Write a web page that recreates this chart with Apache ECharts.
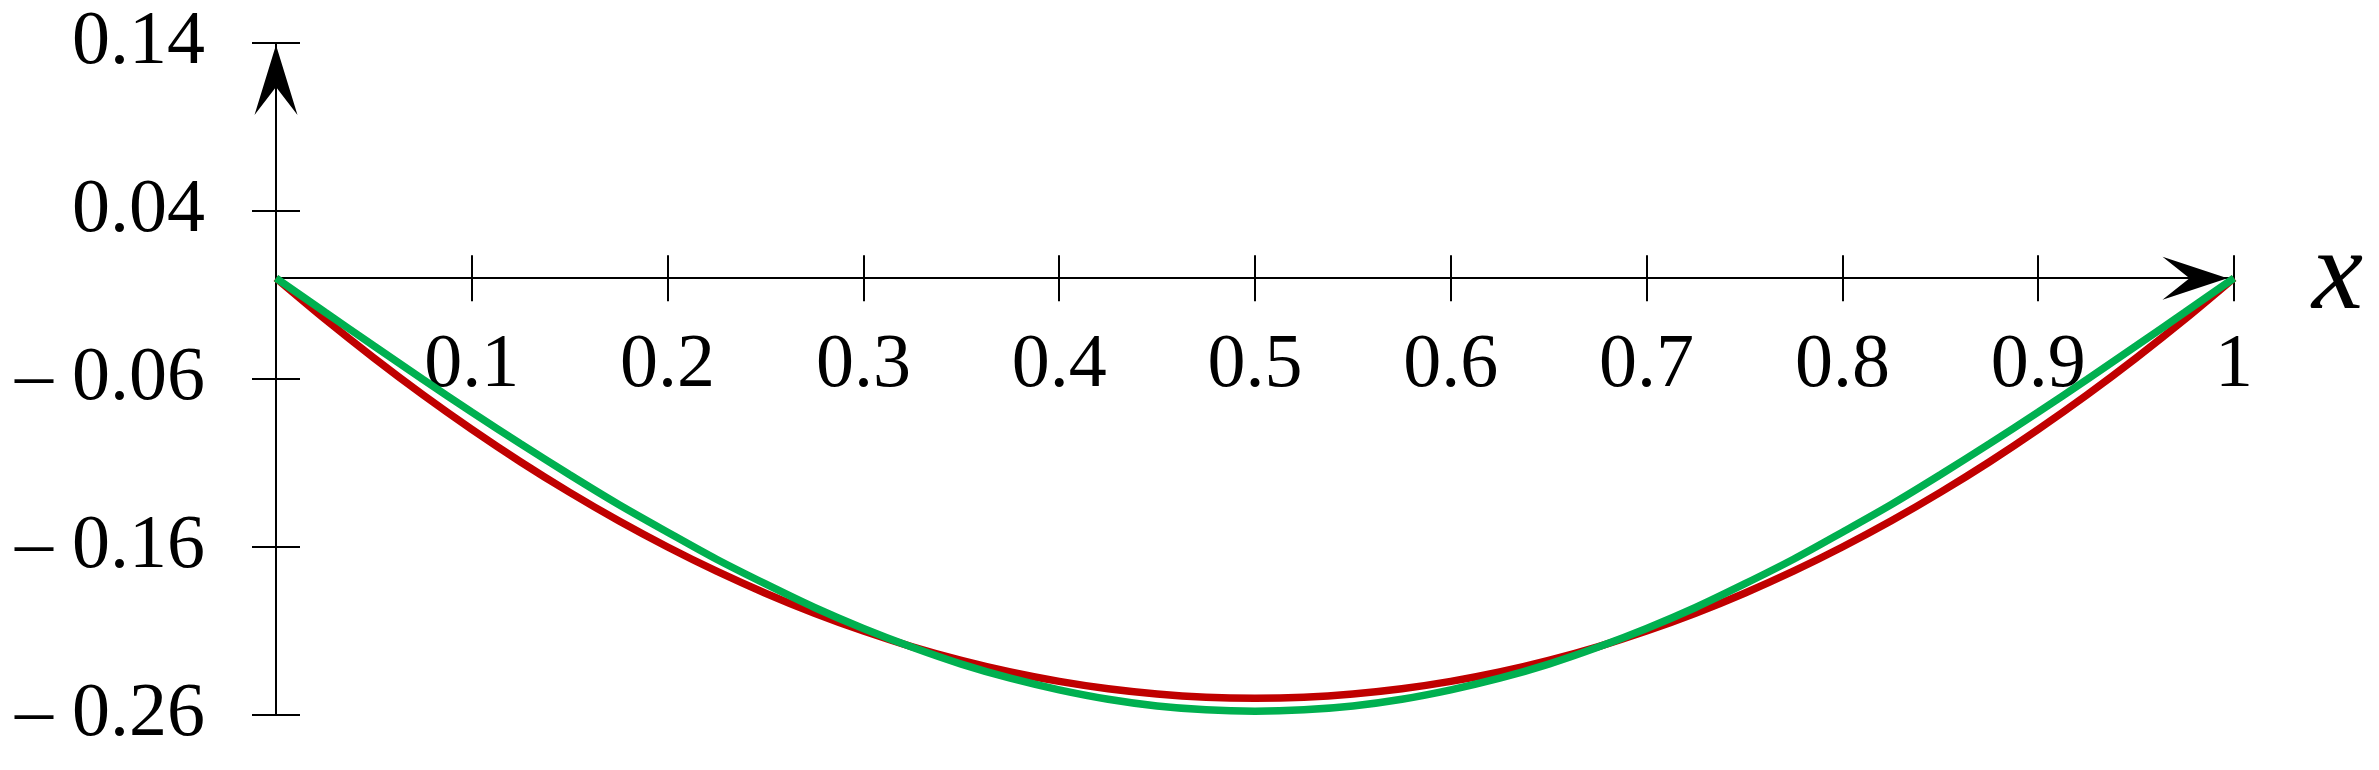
<!DOCTYPE html>
<html>
<head>
<meta charset="utf-8">
<script src="https://cdn.jsdelivr.net/npm/echarts@6/dist/echarts.min.js"></script>
<style>
html,body{margin:0;padding:0;background:#ffffff;}
#chart{width:2379px;height:770px;}
</style>
</head>
<body>
<div id="chart"></div>
<script>
// x positions where the curves were read
const xValues = [0, 0.025, 0.05, 0.075, 0.1, 0.125, 0.15, 0.175, 0.2, 0.225, 0.25,
                 0.275, 0.3, 0.325, 0.35, 0.375, 0.4, 0.425, 0.45, 0.475, 0.5,
                 0.525, 0.55, 0.575, 0.6, 0.625, 0.65, 0.675, 0.7, 0.725, 0.75,
                 0.775, 0.8, 0.825, 0.85, 0.875, 0.9, 0.925, 0.95, 0.975, 1];
// red curve
const redValues = [0, -0.0244, -0.0475, -0.0694, -0.09, -0.1094, -0.1275, -0.1444, -0.16, -0.1744, -0.1875,
                   -0.1994, -0.210, -0.2194, -0.2275, -0.2344, -0.240, -0.2444, -0.2475, -0.2494, -0.250,
                   -0.2494, -0.2475, -0.2444, -0.240, -0.2344, -0.2275, -0.2194, -0.210, -0.1994, -0.1875,
                   -0.1744, -0.16, -0.1444, -0.1275, -0.1094, -0.09, -0.0694, -0.0475, -0.0244, 0];
// green curve
const greenValues = [0, -0.0202, -0.0403, -0.0602, -0.0797, -0.0986, -0.117, -0.1347, -0.1512, -0.1673, -0.182,
                     -0.196, -0.2085, -0.2197, -0.2297, -0.2381, -0.245, -0.2506, -0.2546, -0.2569, -0.2577,
                     -0.2569, -0.2546, -0.2506, -0.245, -0.2381, -0.2297, -0.2197, -0.2085, -0.196, -0.182,
                     -0.1673, -0.1512, -0.1347, -0.117, -0.0986, -0.0797, -0.0602, -0.0403, -0.0202, 0];
// axis ranges / ticks
const xMin = 0, xMax = 1, xStep = 0.1;
const yMin = -0.26, yMax = 0.14, yStep = 0.1;
const xAxisName = 'x';

const FONT = "'Liberation Serif','Times New Roman',serif";

const redData = xValues.map((x, i) => [x, redValues[i]]);
const greenData = xValues.map((x, i) => [x, greenValues[i]]);

const chart = echarts.init(document.getElementById('chart'), null, {renderer: 'canvas'});

const tickStyle = {color: '#000', width: 2};

function buildOption(xOffset) {
  return {
    animation: false,
    backgroundColor: '#ffffff',
    grid: {left: 276, right: 145, top: 43, bottom: 55, containLabel: false, outerBoundsMode: 'none'},
    xAxis: [
      {
        type: 'value', min: xMin, max: xMax, interval: xStep,
        position: 'bottom', offset: xOffset,
        splitLine: {show: false},
        axisLine: {
          show: true, onZero: false,
          lineStyle: {color: '#000', width: 2},
          symbol: ['none', 'path://M21.5,0 L43,65 L21.5,38 L0,65 Z'],
          symbolSize: [43, 65],
          symbolOffset: [0, -39]
        },
        axisTick: {show: true, length: 23, lineStyle: tickStyle},
        axisLabel: {
          show: true, margin: 50, fontSize: 76, fontFamily: FONT, color: '#000',
          formatter: function (v) { return Math.abs(v) < 1e-9 ? '' : String(+v.toFixed(1)); }
        },
        name: xAxisName, nameLocation: 'end', nameGap: 78,
        nameTextStyle: {fontFamily: FONT, fontStyle: 'italic', fontSize: 115, color: '#000',
                        align: 'left', verticalAlign: 'middle'}
      },
      {
        type: 'value', min: xMin, max: xMax, interval: xStep,
        position: 'top',
        splitLine: {show: false},
        axisLine: {show: true, onZero: true, onZeroAxisIndex: 0, lineStyle: {color: '#000', width: 2}},
        axisTick: {show: true, length: 23, lineStyle: tickStyle},
        axisLabel: {show: false}
      }
    ],
    yAxis: [
      {
        type: 'value', min: yMin, max: yMax, interval: yStep,
        position: 'left',
        splitLine: {show: false},
        axisLine: {
          show: true, onZero: true, onZeroAxisIndex: 0,
          lineStyle: {color: '#000', width: 2},
          symbol: ['none', 'path://M21.5,0 L43,70 L21.5,42 L0,70 Z'],
          symbolSize: [43, 70],
          symbolOffset: [0, -37]
        },
        axisTick: {show: true, length: 24, lineStyle: tickStyle},
        axisLabel: {
          show: true, margin: 71, fontSize: 76, fontFamily: FONT, color: '#000',
          formatter: function (v) {
            const s = Math.abs(v).toFixed(2);
            return v < -1e-9 ? '\u2013 ' + s : s;
          }
        }
      },
      {
        type: 'value', min: yMin, max: yMax, interval: yStep,
        position: 'right',
        splitLine: {show: false},
        axisLine: {show: true, onZero: true, onZeroAxisIndex: 0, lineStyle: {color: '#000', width: 2}},
        axisTick: {show: true, length: 24, lineStyle: tickStyle},
        axisLabel: {show: false}
      }
    ],
    series: [
      {
        type: 'line', xAxisIndex: 0, yAxisIndex: 0,
        data: redData, smooth: 0.3, showSymbol: false, symbol: 'none',
        lineStyle: {color: '#C00000', width: 7.5},
        z: 3
      },
      {
        type: 'line', xAxisIndex: 0, yAxisIndex: 0,
        data: greenData, smooth: 0.3, showSymbol: false, symbol: 'none',
        lineStyle: {color: '#00B050', width: 7.5},
        z: 4
      }
    ]
  };
}

chart.setOption(buildOption(0));
// move the labelled x axis up to the y = 0 line, using the library's own scale
const zeroY = chart.convertToPixel({yAxisIndex: 0}, 0);
const bottomY = chart.convertToPixel({yAxisIndex: 0}, yMin);
chart.setOption(buildOption(zeroY - bottomY));
</script>
</body>
</html>
